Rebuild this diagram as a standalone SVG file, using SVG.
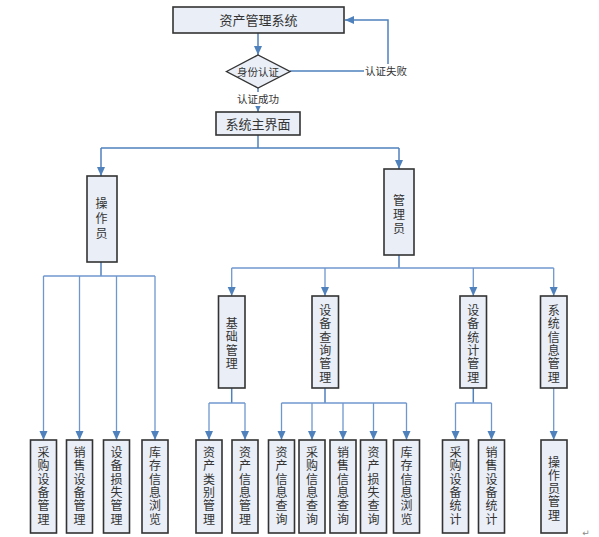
<svg xmlns="http://www.w3.org/2000/svg" width="599" height="537" viewBox="0 0 599 537">
<style>
  .box{fill:#E9EEF7;stroke:#333;stroke-width:1.6}
  .t{font-family:"Noto Sans CJK SC","Noto Sans CJK JP",sans-serif;font-size:13px;fill:#333;text-anchor:middle}
  .v{font-family:"Liberation Sans","Noto Sans CJK SC","Noto Sans CJK JP",sans-serif;font-size:12px;fill:#333;text-anchor:middle}
  .s{font-family:"Noto Sans CJK SC","Noto Sans CJK JP",sans-serif;font-size:10.5px;fill:#333;text-anchor:middle}
  .c{fill:none;stroke:#4F81BD;stroke-width:1.5}
  .b{fill:none;stroke:#6F97CF;stroke-width:1.3}
</style>
<defs>
  <marker id="a" markerUnits="userSpaceOnUse" markerWidth="10" markerHeight="10" refX="9" refY="5" orient="auto">
    <path d="M0,1 L9,5 L0,9 Z" fill="#4F81BD"/>
  </marker>
</defs>
<rect width="599" height="537" fill="#fff"/>

<g id="connectors">
  <path class="c" d="M258,33 V55" marker-end="url(#a)"/>
  <path class="c" d="M290,71 H388 V20 H345" marker-end="url(#a)"/>
  <path class="c" d="M258,88 V112" marker-end="url(#a)"/>
  <path class="c" d="M258,135 V148 M101,148 H399"/>
  <path class="c" d="M101,148 V176" marker-end="url(#a)"/>
  <path class="c" d="M399,148 V169" marker-end="url(#a)"/>
  <path class="c" d="M101,262 V276"/>
  <path class="b" d="M43.5,276 H155"/>
  <path class="b" d="M43.5,276 V440" marker-end="url(#a)"/>
  <path class="b" d="M79.5,276 V440" marker-end="url(#a)"/>
  <path class="b" d="M116.5,276 V440" marker-end="url(#a)"/>
  <path class="b" d="M155,276 V440" marker-end="url(#a)"/>
  <path class="c" d="M399,255 V268"/>
  <path class="b" d="M231.7,268 H553.7"/>
  <path class="b" d="M231.7,268 V296" marker-end="url(#a)"/>
  <path class="b" d="M325,268 V296" marker-end="url(#a)"/>
  <path class="b" d="M473.3,268 V296" marker-end="url(#a)"/>
  <path class="b" d="M553.7,268 V296" marker-end="url(#a)"/>
  <path class="c" d="M231.7,388 V403"/>
  <path class="b" d="M209,403 H245"/>
  <path class="b" d="M209,403 V440" marker-end="url(#a)"/>
  <path class="b" d="M245,403 V440" marker-end="url(#a)"/>
  <path class="c" d="M325,388 V403"/>
  <path class="b" d="M281.5,403 H406.5"/>
  <path class="b" d="M281.5,403 V440" marker-end="url(#a)"/>
  <path class="b" d="M312,403 V440" marker-end="url(#a)"/>
  <path class="b" d="M343,403 V440" marker-end="url(#a)"/>
  <path class="b" d="M373.5,403 V440" marker-end="url(#a)"/>
  <path class="b" d="M406.5,403 V440" marker-end="url(#a)"/>
  <path class="c" d="M473.3,388 V403"/>
  <path class="b" d="M455.5,403 H491.5"/>
  <path class="b" d="M455.5,403 V440" marker-end="url(#a)"/>
  <path class="b" d="M491.5,403 V440" marker-end="url(#a)"/>
  <path class="b" d="M553.7,388 V440" marker-end="url(#a)"/>
  <rect x="364" y="64" width="44" height="14" fill="#fff"/>
  <text class="s" x="386" y="75">认证失败</text>
  <rect x="236" y="92" width="44" height="14" fill="#fff"/>
  <text class="s" x="258" y="103">认证成功</text>
</g>

<g id="n-top"><rect class="box" x="173" y="7" width="171" height="26"/><text class="t" x="258.5" y="25">资产管理系统</text></g>
<g id="n-auth"><path d="M226.5,71.5 L258,55 L290,71.5 L258,88 Z" fill="#E9EEF7" stroke="#333" stroke-width="1.4"/><text class="s" x="258" y="75.5">身份认证</text></g>
<g id="n-main"><rect class="box" x="216" y="112" width="84" height="23"/><text class="t" x="258" y="128.5">系统主界面</text></g>

<g id="n-op"><rect class="box" x="87" y="176" width="30" height="86"/>
<text class="v"><tspan x="101.5" y="208">操</tspan><tspan x="101.5" y="223">作</tspan><tspan x="101.5" y="238">员</tspan></text></g>
<g id="n-admin"><rect class="box" x="384" y="169" width="30" height="86"/>
<text class="v"><tspan x="399" y="204.5">管</tspan><tspan x="399" y="218.5">理</tspan><tspan x="399" y="232.5">员</tspan></text></g>

<g id="n-base"><rect class="box" x="218.5" y="296" width="26.5" height="92"/>
<text class="v"><tspan x="231.7" y="328">基</tspan><tspan x="231.7" y="341.3">础</tspan><tspan x="231.7" y="354.6">管</tspan><tspan x="231.7" y="367.9">理</tspan></text></g>
<g id="n-query"><rect class="box" x="312" y="296" width="26.5" height="92"/>
<text class="v"><tspan x="325.2" y="315">设</tspan><tspan x="325.2" y="328.3">备</tspan><tspan x="325.2" y="341.6">查</tspan><tspan x="325.2" y="354.9">询</tspan><tspan x="325.2" y="368.2">管</tspan><tspan x="325.2" y="381.5">理</tspan></text></g>
<g id="n-stat"><rect class="box" x="460" y="296" width="26.5" height="92"/>
<text class="v"><tspan x="473.3" y="315">设</tspan><tspan x="473.3" y="328.3">备</tspan><tspan x="473.3" y="341.6">统</tspan><tspan x="473.3" y="354.9">计</tspan><tspan x="473.3" y="368.2">管</tspan><tspan x="473.3" y="381.5">理</tspan></text></g>
<g id="n-sys"><rect class="box" x="540.5" y="296" width="26.5" height="92"/>
<text class="v"><tspan x="553.7" y="315">系</tspan><tspan x="553.7" y="328.3">统</tspan><tspan x="553.7" y="341.6">信</tspan><tspan x="553.7" y="354.9">息</tspan><tspan x="553.7" y="368.2">管</tspan><tspan x="553.7" y="381.5">理</tspan></text></g>

<g id="n-l1"><rect class="box" x="30.5" y="440" width="26" height="93"/>
<text class="v"><tspan x="43.5" y="457">采</tspan><tspan x="43.5" y="470.3">购</tspan><tspan x="43.5" y="483.6">设</tspan><tspan x="43.5" y="496.9">备</tspan><tspan x="43.5" y="510.2">管</tspan><tspan x="43.5" y="523.5">理</tspan></text></g>
<g id="n-l2"><rect class="box" x="66.5" y="440" width="26" height="93"/>
<text class="v"><tspan x="79.5" y="457">销</tspan><tspan x="79.5" y="470.3">售</tspan><tspan x="79.5" y="483.6">设</tspan><tspan x="79.5" y="496.9">备</tspan><tspan x="79.5" y="510.2">管</tspan><tspan x="79.5" y="523.5">理</tspan></text></g>
<g id="n-l3"><rect class="box" x="103.5" y="440" width="26" height="93"/>
<text class="v"><tspan x="116.5" y="457">设</tspan><tspan x="116.5" y="470.3">备</tspan><tspan x="116.5" y="483.6">损</tspan><tspan x="116.5" y="496.9">失</tspan><tspan x="116.5" y="510.2">管</tspan><tspan x="116.5" y="523.5">理</tspan></text></g>
<g id="n-l4"><rect class="box" x="142" y="440" width="26" height="93"/>
<text class="v"><tspan x="155" y="457">库</tspan><tspan x="155" y="470.3">存</tspan><tspan x="155" y="483.6">信</tspan><tspan x="155" y="496.9">息</tspan><tspan x="155" y="510.2">浏</tspan><tspan x="155" y="523.5">览</tspan></text></g>
<g id="n-l5"><rect class="box" x="196" y="440" width="26" height="93"/>
<text class="v"><tspan x="209" y="457">资</tspan><tspan x="209" y="470.3">产</tspan><tspan x="209" y="483.6">类</tspan><tspan x="209" y="496.9">别</tspan><tspan x="209" y="510.2">管</tspan><tspan x="209" y="523.5">理</tspan></text></g>
<g id="n-l6"><rect class="box" x="232" y="440" width="26" height="93"/>
<text class="v"><tspan x="245" y="457">资</tspan><tspan x="245" y="470.3">产</tspan><tspan x="245" y="483.6">信</tspan><tspan x="245" y="496.9">息</tspan><tspan x="245" y="510.2">管</tspan><tspan x="245" y="523.5">理</tspan></text></g>
<g id="n-l7"><rect class="box" x="268.5" y="440" width="26" height="93"/>
<text class="v"><tspan x="281.5" y="457">资</tspan><tspan x="281.5" y="470.3">产</tspan><tspan x="281.5" y="483.6">信</tspan><tspan x="281.5" y="496.9">息</tspan><tspan x="281.5" y="510.2">查</tspan><tspan x="281.5" y="523.5">询</tspan></text></g>
<g id="n-l8"><rect class="box" x="299" y="440" width="26" height="93"/>
<text class="v"><tspan x="312" y="457">采</tspan><tspan x="312" y="470.3">购</tspan><tspan x="312" y="483.6">信</tspan><tspan x="312" y="496.9">息</tspan><tspan x="312" y="510.2">查</tspan><tspan x="312" y="523.5">询</tspan></text></g>
<g id="n-l9"><rect class="box" x="330" y="440" width="26" height="93"/>
<text class="v"><tspan x="343" y="457">销</tspan><tspan x="343" y="470.3">售</tspan><tspan x="343" y="483.6">信</tspan><tspan x="343" y="496.9">息</tspan><tspan x="343" y="510.2">查</tspan><tspan x="343" y="523.5">询</tspan></text></g>
<g id="n-l10"><rect class="box" x="360.5" y="440" width="26" height="93"/>
<text class="v"><tspan x="373.5" y="457">资</tspan><tspan x="373.5" y="470.3">产</tspan><tspan x="373.5" y="483.6">损</tspan><tspan x="373.5" y="496.9">失</tspan><tspan x="373.5" y="510.2">查</tspan><tspan x="373.5" y="523.5">询</tspan></text></g>
<g id="n-l11"><rect class="box" x="393.5" y="440" width="26" height="93"/>
<text class="v"><tspan x="406.5" y="457">库</tspan><tspan x="406.5" y="470.3">存</tspan><tspan x="406.5" y="483.6">信</tspan><tspan x="406.5" y="496.9">息</tspan><tspan x="406.5" y="510.2">浏</tspan><tspan x="406.5" y="523.5">览</tspan></text></g>
<g id="n-l12"><rect class="box" x="442.5" y="440" width="26" height="93"/>
<text class="v"><tspan x="455.5" y="457">采</tspan><tspan x="455.5" y="470.3">购</tspan><tspan x="455.5" y="483.6">设</tspan><tspan x="455.5" y="496.9">备</tspan><tspan x="455.5" y="510.2">统</tspan><tspan x="455.5" y="523.5">计</tspan></text></g>
<g id="n-l13"><rect class="box" x="478.5" y="440" width="26" height="93"/>
<text class="v"><tspan x="491.5" y="457">销</tspan><tspan x="491.5" y="470.3">售</tspan><tspan x="491.5" y="483.6">设</tspan><tspan x="491.5" y="496.9">备</tspan><tspan x="491.5" y="510.2">统</tspan><tspan x="491.5" y="523.5">计</tspan></text></g>
<g id="n-l14"><rect class="box" x="541" y="440" width="26" height="93"/>
<text class="v"><tspan x="554" y="466.5">操</tspan><tspan x="554" y="479.8">作</tspan><tspan x="554" y="493.1">员</tspan><tspan x="554" y="506.4">管</tspan><tspan x="554" y="519.7">理</tspan></text></g>

<text x="586" y="536" font-family="DejaVu Sans,sans-serif" font-size="9" fill="#888" text-anchor="middle">↵</text>
</svg>
